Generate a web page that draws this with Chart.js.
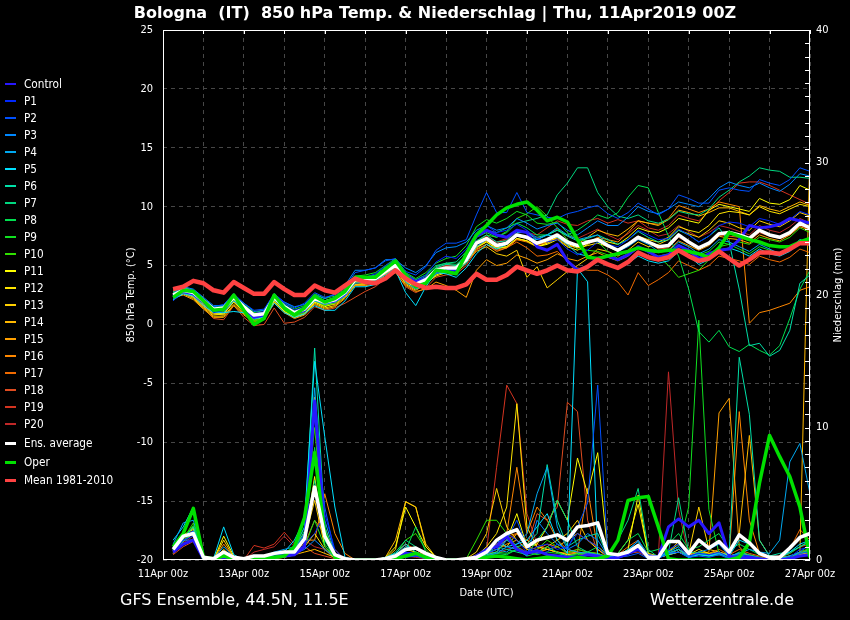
<!DOCTYPE html>
<html lang="de">
<head>
<meta charset="UTF-8">
<title>Bologna (IT) 850 hPa Temp. & Niederschlag</title>
<script src="https://cdn.jsdelivr.net/npm/chart.js"></script>
<style>
  body { margin: 0; background: #000; }
  #wrap {
    position: relative; width: 850px; height: 620px; background: #000; overflow: hidden;
    font-family: 'DejaVu Sans Condensed', 'DejaVu Sans', sans-serif; color: #fff;
  }
  #chart { position: absolute; left: 0; top: 0; }
  #title {
    position: absolute; left: 0; top: 3px; width: 870px; text-align: center;
    font-family: 'DejaVu Sans', sans-serif; font-weight: bold; font-size: 16px; white-space: pre;
  }
  .item { position: absolute; left: 0; height: 14px; font-size: 11.7px; line-height: 14px; white-space: nowrap; }
  .item i { position: absolute; left: 5px; top: 6px; width: 11px; height: 2px; }
  .item span { position: absolute; left: 24px; top: 0; }
  .foot { position: absolute; top: 590px; font-family: 'DejaVu Sans', sans-serif; font-size: 16px; white-space: nowrap; }
</style>
</head>
<body>
<div id="wrap">
  <canvas id="chart" width="850" height="620"></canvas>
  <div id="title">Bologna  (IT)  850 hPa Temp. &amp; Niederschlag | Thu, 11Apr2019 00Z</div>
  <div id="legend"></div>
  <div class="foot" style="left:120px">GFS Ensemble, 44.5N, 11.5E</div>
  <div class="foot" style="left:650px">Wetterzentrale.de</div>
</div>

<script>
// lead time of each step (hours after 11Apr 00z)
const leadHours = [6,12,18,24,30,36,42,48,
  54,60,66,72,78,84,90,96,
  102,108,114,120,126,132,138,144,
  150,156,162,168,174,180,186,192,
  198,204,210,216,222,228,234,240,
  246,252,258,264,270,276,282,288,
  294,300,306,312,318,324,330,336,
  342,348,354,360,366,372,378,384];

const xTickLabels = ['11Apr 00z','13Apr 00z','15Apr 00z','17Apr 00z','19Apr 00z',
  '21Apr 00z','23Apr 00z','25Apr 00z','27Apr 00z'];

const memberNames = ['Control','P1','P2','P3','P4','P5','P6','P7','P8','P9','P10',
  'P11','P12','P13','P14','P15','P16','P17','P18','P19','P20'];

// 850 hPa temperature (°C)
const tempControl = [2.4,2.8,2.6,1.9,1.2,1.4,2.4,1.4, 0.6,0.8,2.4,1.4,0.9,1.2,2.3,1.9,
  2.0,2.6,3.9,3.9,4.0,4.7,5.3,4.2, 3.6,3.9,4.5,4.7,4.6,5.8,7.5,8.0,
  7.6,7.4,8.0,7.8,6.6,6.3,6.8,5.4, 4.6,4.9,5.6,5.8,5.5,5.9,6.6,6.2,
  5.7,5.9,6.7,6.3,5.6,6.0,6.3,6.4, 7.2,8.4,8.2,8.3,8.5,9.0,8.8,8.6];
const tempP1 = [2.2,3.0,2.9,2.1,1.0,1.2,2.6,1.6, 0.9,1.1,2.6,1.8,1.2,1.5,2.5,2.0,
  2.3,2.9,4.1,4.0,4.3,5.0,5.5,4.1, 3.7,4.2,5.3,5.8,5.6,6.4,7.8,8.4,
  7.8,8.0,8.5,8.0,7.3,7.0,7.2,6.4, 5.9,6.3,7.0,6.8,6.6,7.2,8.0,7.6,
  7.2,7.3,8.1,7.6,7.0,7.5,8.4,8.7, 8.6,8.3,9.0,8.8,8.5,8.9,9.6,9.3];
const tempP2 = [2.0,2.8,2.8,2.2,1.5,1.7,2.6,1.8, 1.2,1.3,2.6,1.9,1.4,1.8,2.7,2.3,
  2.5,3.1,4.4,4.6,4.8,5.4,5.6,4.5, 4.2,4.9,6.3,6.9,6.9,7.2,9.3,11.2,
  9.5,9.5,11.2,9.5,9.3,9.1,9.0,9.4, 9.6,9.9,10.1,9.4,9.0,9.5,10.3,9.8,
  9.3,9.8,11.0,10.7,10.3,10.3,11.4,11.6, 11.4,11.3,12.3,12.0,11.8,12.3,13.3,13.0];
const tempP3 = [2.6,3.2,3.0,2.3,1.6,1.6,2.5,1.8, 1.1,1.2,2.5,1.9,1.5,1.7,2.5,2.2,
  2.6,3.3,4.6,4.6,4.8,5.5,5.5,4.8, 4.4,5.0,6.1,6.5,6.6,7.0,8.0,8.4,
  8.0,8.2,9.0,8.6,8.1,8.4,8.6,8.0, 7.6,8.2,8.8,8.4,8.4,9.1,10.0,9.6,
  9.4,9.8,10.4,10.2,10.0,10.7,11.6,12.1, 11.8,11.6,12.0,11.6,11.3,11.9,12.8,12.6];
const tempP4 = [2.3,2.7,2.5,1.8,1.1,1.0,2.0,1.3, 0.6,0.7,2.1,1.3,0.8,1.1,2.0,1.7,
  1.9,2.4,3.5,3.6,3.7,4.2,4.8,3.6, 3.0,3.4,4.3,4.6,4.6,5.2,6.6,7.2,
  6.6,6.9,7.8,7.8,7.2,7.6,8.2,7.6, 7.2,7.4,7.6,6.8,6.2,6.6,7.2,6.8,
  6.2,6.2,7.0,6.6,6.0,6.4,7.2,7.0, 6.6,6.2,6.8,6.4,6.0,6.4,7.2,6.8];
const tempP5 = [2.1,2.6,2.4,1.6,1.0,1.0,1.1,1.0, 0.5,0.6,1.8,1.0,0.6,0.9,1.6,1.2,
  1.2,2.0,3.2,3.2,3.4,4.0,4.6,2.7, 1.6,3.2,4.4,4.3,4.0,4.8,6.0,6.8,
  6.4,6.8,7.6,7.4,7.2,7.6,7.4,6.8, 6.0,5.8,5.6,5.2,4.8,5.2,5.8,5.4,
  5.2,5.4,6.2,5.8,5.1,5.5,6.3,6.5, 6.2,5.8,6.4,6.0,5.8,6.2,7.0,6.7];
const tempP6 = [2.8,3.1,2.9,2.2,1.4,1.5,2.4,1.6, 0.9,1.0,2.4,1.6,1.1,1.4,2.3,2.0,
  2.2,2.8,3.9,3.9,4.1,4.7,5.1,4.0, 3.5,3.9,4.8,5.1,5.0,5.8,7.1,7.6,
  7.0,7.1,8.0,7.8,7.4,7.6,8.0,7.5, 7.1,7.3,7.6,7.2,6.8,7.2,7.9,7.4,
  7.0,7.2,8.0,7.6,7.0,7.5,8.2,7.0, 3.0,-1.8,-1.6,-2.7,-2.2,-0.5,3.5,4.2];
const tempP7 = [2.7,3.0,2.6,1.8,1.2,1.5,2.5,1.5, 0.7,1.0,2.5,1.7,1.1,1.4,2.4,2.0,
  2.3,2.9,4.0,4.0,4.2,4.9,5.3,4.3, 3.8,4.2,5.0,5.2,5.3,6.2,7.5,8.0,
  7.8,8.2,8.6,8.8,9.0,9.3,11.0,12.0, 13.3,13.3,11.2,10.0,9.2,9.0,9.3,8.8,
  8.6,8.9,9.6,9.4,9.3,9.8,10.8,11.4, 12.1,12.6,13.3,13.1,13.0,12.5,12.5,12.4];
const tempP8 = [2.4,2.9,2.8,2.1,1.3,1.3,2.4,1.3, 0.4,0.7,2.4,1.4,0.9,1.3,2.3,1.8,
  2.0,2.7,3.9,3.9,4.0,4.6,5.2,4.1, 3.6,4.1,4.9,5.2,5.1,5.9,7.4,7.8,
  7.4,7.8,8.6,8.2,7.6,7.6,8.0,7.6, 8.0,8.6,9.3,9.0,9.5,10.8,11.8,11.6,
  9.5,7.5,5.8,3.0,-0.6,-1.5,-0.5,-1.9, -2.3,-1.7,-2.2,-2.6,-1.8,0.5,3.0,4.6];
const tempP9 = [2.6,3.1,2.9,2.2,1.5,1.6,2.6,1.7, 1.0,1.2,2.6,1.8,1.3,1.6,2.6,2.2,
  2.4,3.0,4.1,4.2,4.4,5.0,5.6,4.4, 3.9,4.4,5.2,5.6,5.8,6.7,8.3,8.9,
  8.6,9.0,9.6,9.3,8.6,8.5,8.7,7.8, 7.2,7.1,7.0,6.2,5.6,6.0,6.6,6.1,
  5.8,6.0,6.8,6.3,5.9,6.2,7.0,6.8, 6.4,6.0,6.6,6.3,6.0,6.3,7.2,7.0];
const tempP10 = [2.2,2.7,2.5,1.8,1.0,1.1,2.1,1.1, 0.3,0.5,2.1,1.2,0.7,1.0,2.0,1.6,
  1.8,2.4,3.6,3.7,3.8,4.4,5.0,3.8, 3.3,3.7,4.5,4.8,4.9,5.6,7.0,7.6,
  7.4,7.9,9.0,9.4,10.0,9.2,8.2,7.2, 6.4,6.3,6.2,5.9,5.4,5.9,6.5,6.2,
  5.8,5.0,4.0,4.3,4.6,5.5,6.6,6.8, 7.0,6.8,7.4,7.2,7.0,7.4,8.2,7.8];
const tempP11 = [2.4,2.8,2.4,1.6,1.0,0.9,1.9,1.1, 0.5,0.6,2.0,1.1,0.6,0.9,1.9,1.5,
  1.8,2.5,3.7,3.6,3.6,4.2,4.8,3.7, 3.1,3.4,4.2,4.5,4.4,5.2,6.6,7.0,
  6.5,6.6,7.3,7.1,6.6,6.8,7.2,6.6, 6.3,6.8,7.3,7.0,6.8,7.4,8.2,7.9,
  7.8,8.2,9.0,8.8,8.6,9.7,10.2,10.0, 9.8,9.6,10.7,10.3,10.2,10.6,11.8,11.4];
const tempP12 = [2.6,2.9,2.5,1.7,0.9,0.8,2.0,1.2, 0.6,0.8,2.2,1.4,0.9,1.1,2.0,1.6,
  1.9,2.6,3.6,3.6,3.8,4.4,4.9,3.6, 3.2,3.7,4.5,4.7,4.6,5.3,6.5,7.0,
  6.4,6.6,7.3,7.1,6.6,6.9,7.4,6.8, 6.5,6.7,6.9,6.6,6.2,6.8,7.5,7.2,
  7.0,7.4,8.3,8.0,7.8,8.4,9.4,9.6, 9.5,9.3,10.0,9.6,9.4,9.8,10.2,10.0];
const tempP13 = [2.2,2.6,2.2,1.4,0.7,0.7,1.7,0.9, 0.3,0.5,1.9,1.1,0.6,0.9,1.8,1.4,
  1.6,2.3,3.4,3.4,3.6,4.2,4.6,3.5, 3.0,3.5,4.1,4.4,4.6,5.4,6.2,6.6,
  6.0,5.8,6.3,4.0,4.9,3.1,3.8,4.5, 5.0,5.6,6.4,6.2,5.8,6.3,7.0,6.6,
  6.8,7.2,8.0,7.7,7.4,8.0,8.8,8.6, 8.2,8.0,8.8,8.5,8.3,8.8,9.5,9.2];
const tempP14 = [2.5,2.7,2.3,1.5,0.8,0.9,1.9,1.0, 0.4,0.6,2.0,1.2,0.7,1.0,1.9,1.6,
  1.7,2.4,3.4,3.5,3.7,4.3,4.7,3.4, 2.9,3.4,4.4,4.7,4.7,5.4,6.6,7.1,
  6.6,6.8,7.5,7.3,6.8,7.0,7.4,6.9, 6.8,7.4,8.0,7.7,7.5,8.1,8.8,8.6,
  8.4,8.9,9.7,9.5,9.2,9.5,9.9,9.9, 9.6,9.3,10.1,9.8,9.6,10.0,10.4,10.1];
const tempP15 = [2.3,2.5,2.1,1.3,0.6,0.6,1.6,0.8, 0.2,0.4,1.8,1.0,0.5,0.8,1.7,1.3,
  1.5,2.2,3.3,3.3,3.4,4.0,4.4,3.3, 2.8,3.0,3.6,3.3,2.9,2.3,4.6,5.5,
  5.0,5.2,5.9,5.6,5.2,5.5,6.0,5.6, 5.4,5.8,6.1,5.7,5.4,5.8,6.5,6.2,
  6.1,6.3,7.1,6.7,6.3,6.7,7.5,7.3, 7.2,6.9,7.6,7.3,7.1,7.6,8.3,8.0];
const tempP16 = [2.6,2.8,2.3,1.5,0.9,1.0,2.0,1.2, 0.5,0.7,2.1,1.3,0.8,1.1,2.0,1.7,
  1.9,2.5,3.6,3.6,3.7,4.3,4.8,3.7, 3.2,3.6,4.4,4.6,4.6,5.2,6.4,6.8,
  6.2,6.5,7.2,7.0,6.6,6.9,7.3,6.7, 6.5,6.9,7.4,7.2,7.0,7.8,8.8,8.6,
  8.5,9.0,10.1,9.8,9.5,9.8,10.4,10.2, 10.0,0.1,1.0,1.2,1.5,1.8,2.9,3.2];
const tempP17 = [2.9,3.2,2.7,1.9,1.1,1.2,2.2,1.4, 0.7,0.9,2.3,1.5,1.0,1.2,2.1,1.8,
  2.0,2.6,3.8,3.8,3.9,4.5,5.0,3.8, 3.3,3.7,4.6,4.9,4.8,5.5,6.8,7.2,
  6.6,6.5,7.0,6.5,5.8,5.9,6.2,5.4, 4.8,4.6,4.6,4.2,3.6,2.5,4.4,3.3,
  3.8,4.4,5.4,5.0,4.6,5.0,5.8,5.6, 5.4,5.1,5.8,5.5,5.3,5.7,6.4,6.1];
const tempP18 = [2.7,2.9,2.3,1.4,0.5,0.4,1.6,0.6, -0.1,0.0,1.4,0.1,0.2,0.6,1.5,1.2,
  1.4,1.8,2.3,2.8,3.2,3.9,4.5,3.2, 2.7,3.1,4.0,4.2,4.3,5.0,6.3,6.8,
  6.3,6.5,7.2,7.1,6.7,7.0,7.4,6.9, 6.6,6.9,7.1,6.7,6.3,6.8,7.4,7.0,
  6.4,6.5,7.4,6.9,6.4,6.9,7.6,7.5, 7.4,7.1,7.8,7.5,7.3,7.6,8.4,8.1];
const tempP19 = [2.8,3.1,2.6,1.8,1.1,1.3,2.3,1.5, 0.8,1.0,2.4,1.6,1.1,1.4,2.3,2.0,
  2.2,2.8,3.9,3.9,4.0,4.6,5.1,4.0, 3.5,3.9,4.7,5.0,5.0,5.7,7.0,7.4,
  6.9,7.2,7.9,7.8,7.6,8.2,8.8,8.5, 8.4,8.8,9.0,8.6,8.9,8.6,8.8,8.2,
  8.0,8.4,9.3,9.0,8.8,9.6,10.5,11.2, 12.0,12.1,12.1,11.8,11.4,11.0,10.6,10.2];
const tempP20 = [3.0,3.3,2.8,2.0,1.2,1.3,2.3,1.5, 0.7,0.9,2.3,1.5,1.0,1.3,2.2,1.9,
  2.1,2.7,3.8,3.8,3.9,4.6,5.1,4.0, 3.6,3.9,4.8,5.1,5.0,5.7,7.1,7.5,
  7.0,7.3,8.0,7.8,7.3,7.6,8.1,7.5, 7.3,7.7,8.1,7.6,7.2,7.7,8.4,8.0,
  7.5,7.7,8.4,7.9,7.4,7.8,8.4,8.2, 7.9,7.6,8.4,8.0,7.8,8.3,9.0,8.6];
const tempAverage = [2.5,2.9,2.7,2.0,1.3,1.4,2.3,1.5, 0.8,0.9,2.3,1.5,1.0,1.3,2.2,1.9,
  2.1,2.7,3.8,3.8,3.9,4.5,5.0,3.9, 3.4,3.8,4.6,4.8,4.8,5.5,6.9,7.3,
  6.7,6.9,7.6,7.4,6.9,7.2,7.6,7.0, 6.7,7.0,7.2,6.7,6.3,6.8,7.4,7.0,
  6.6,6.7,7.6,7.0,6.5,6.9,7.7,7.8, 7.6,7.3,8.0,7.6,7.4,7.8,8.6,8.2];
const tempOper = [2.3,2.9,2.8,2.0,1.2,1.3,2.5,1.2, 0.0,0.5,2.5,1.4,0.8,1.4,2.4,1.9,
  2.2,2.8,4.0,4.0,4.0,4.7,5.4,4.2, 3.2,3.5,4.6,4.5,4.3,6.0,7.6,8.4,
  9.3,9.9,10.2,10.4,9.7,8.8,9.1,8.7, 7.2,5.7,5.6,5.8,6.0,6.2,6.5,6.3,
  6.2,6.3,6.3,6.2,6.0,5.7,6.5,7.8, 7.5,7.2,7.0,6.7,6.6,6.6,7.0,7.3];
const tempMean = [3.0,3.2,3.7,3.5,2.9,2.7,3.6,3.1, 2.6,2.6,3.6,3.0,2.5,2.5,3.3,2.9,
  2.7,3.3,3.9,3.6,3.5,3.9,4.6,3.9, 3.4,3.1,3.2,3.1,3.1,3.4,4.3,3.8,
  3.8,4.2,4.9,4.6,4.3,4.6,5.0,4.6, 4.5,4.9,5.5,5.1,4.8,5.3,6.1,5.7,
  5.5,5.7,6.3,5.8,5.4,5.6,6.2,5.6, 5.0,5.5,6.1,6.1,6.0,6.4,6.9,6.9];

// 6-hourly precipitation (mm)
const precipControl = [0.6,1.2,1.5,0.1,0.0,0.2,0.1,0.0, 0.1,0.1,0.2,0.3,0.4,1.0,12.0,2.0,
  0.3,0.0,0.0,0.0,0.0,0.0,0.2,0.5, 0.4,0.2,0.0,0.0,0.0,0.0,0.3,0.8,
  1.0,1.8,0.8,0.5,0.7,0.4,0.3,0.2, 0.2,0.4,0.3,0.1,0.2,0.5,0.8,0.3,
  0.2,2.5,3.1,2.5,3.0,2.0,2.8,0.3, 0.1,0.2,0.1,0.0,0.0,0.1,0.3,0.4];
const precipP1 = [0.5,1.5,1.8,0.1,0.0,0.3,0.0,0.0, 0.0,0.2,0.3,0.5,0.5,1.2,2.0,3.5,
  0.8,0.0,0.0,0.0,0.0,0.0,0.3,0.6, 0.5,0.1,0.0,0.0,0.0,0.0,0.2,0.6,
  1.2,2.0,1.5,0.6,1.0,1.2,0.8,1.0, 2.0,1.5,1.0,0.2,0.1,0.4,0.8,0.1,
  0.2,0.8,1.2,0.3,0.5,0.4,0.6,0.2, 0.4,0.3,0.1,0.0,0.0,0.2,0.8,1.0];
const precipP2 = [0.8,1.8,2.2,0.2,0.0,0.1,0.0,0.0, 0.1,0.1,0.2,0.4,0.6,2.0,11.0,4.0,
  0.5,0.0,0.0,0.0,0.0,0.0,0.1,0.2, 0.3,0.1,0.0,0.0,0.0,0.0,0.3,0.5,
  0.8,1.5,3.0,1.0,0.5,0.6,1.2,0.8, 2.5,4.3,13.2,0.5,0.2,0.3,0.5,0.1,
  0.1,0.5,0.6,0.2,0.3,0.2,0.4,0.1, 0.3,0.2,0.0,0.0,0.0,0.1,0.5,0.6];
const precipP3 = [1.0,1.5,1.5,0.1,0.0,0.2,0.1,0.0, 0.0,0.1,0.2,0.3,0.5,0.8,1.5,0.8,
  0.2,0.0,0.0,0.0,0.0,0.0,0.2,0.4, 0.3,0.2,0.0,0.0,0.0,0.0,0.0,0.3,
  0.5,1.0,0.8,0.3,3.0,2.0,1.2,0.8, 1.2,2.0,1.5,0.3,0.2,0.6,1.5,0.4,
  0.3,0.6,1.0,0.2,0.6,0.8,1.2,0.3, 0.5,0.3,0.1,0.0,0.1,0.3,0.6,1.2];
const precipP4 = [1.2,2.8,3.0,0.3,0.1,1.0,0.2,0.0, 0.1,0.3,0.6,0.8,1.0,2.5,13.0,3.0,
  0.5,0.0,0.0,0.0,0.0,0.1,0.4,1.0, 0.8,0.5,0.1,0.0,0.0,0.0,0.2,0.5,
  0.8,0.6,1.2,2.0,5.0,7.0,2.5,0.8, 0.6,0.5,0.4,0.2,0.3,0.6,1.0,0.3,
  0.2,0.5,0.8,0.3,0.5,0.4,0.5,0.2, 0.5,0.8,0.6,0.5,1.5,7.4,8.8,5.0];
const precipP5 = [1.5,2.5,4.0,0.3,0.1,2.5,0.4,0.0, 0.1,0.2,0.4,0.6,1.5,3.0,15.0,9.3,
  4.0,0.2,0.0,0.0,0.0,0.2,0.5,1.2, 0.6,0.3,0.1,0.0,0.0,0.0,0.3,0.8,
  1.5,1.0,1.2,1.5,2.5,3.5,1.5,0.5, 22.0,21.0,0.3,0.2,0.3,0.8,1.4,0.3,
  0.2,0.4,0.6,0.2,0.4,0.3,0.5,0.3, 1.5,1.2,0.4,0.2,0.2,0.6,1.2,1.5];
const precipP6 = [0.8,1.6,2.5,0.2,0.0,0.4,0.1,0.0, 0.0,0.1,0.3,0.5,0.8,2.2,16.0,2.5,
  0.3,0.0,0.0,0.0,0.0,0.1,0.3,0.6, 0.4,0.2,0.0,0.0,0.0,0.0,0.1,0.4,
  0.6,1.5,1.0,1.2,2.0,7.2,3.0,1.0, 1.5,1.8,2.0,0.3,0.2,0.5,1.2,0.3,
  0.3,0.5,0.8,0.2,0.4,0.3,0.4,0.5, 15.3,11.0,1.5,0.3,0.5,0.6,1.0,1.4];
const precipP7 = [0.6,1.4,2.2,0.2,0.0,0.3,0.0,0.0, 0.0,0.1,0.2,0.3,0.6,1.8,6.0,1.5,
  0.2,0.0,0.0,0.0,0.0,0.1,0.6,1.5, 1.0,0.4,0.0,0.0,0.0,0.0,0.2,0.5,
  1.0,0.8,0.6,0.4,1.5,2.5,4.5,3.0, 1.0,0.6,0.4,0.3,1.5,3.0,5.4,0.8,
  0.2,0.6,4.7,0.6,0.5,0.3,0.4,0.2, 0.6,0.4,0.2,0.0,0.1,0.3,0.5,0.8];
const precipP8 = [0.7,1.5,2.0,0.1,0.0,0.2,0.0,0.0, 0.0,0.1,0.2,0.4,0.7,2.0,8.5,1.2,
  0.2,0.0,0.0,0.0,0.0,0.0,0.2,0.7, 2.5,0.6,0.0,0.0,0.0,0.0,0.1,0.3,
  0.5,0.4,0.8,0.3,0.5,1.0,0.6,0.3, 0.4,0.6,1.0,0.3,0.5,1.5,2.0,0.6,
  0.8,1.2,2.0,0.8,1.0,1.5,2.0,0.8, 1.2,0.8,0.4,0.3,0.2,0.5,1.0,1.5];
const precipP9 = [0.9,1.7,2.6,0.2,0.0,0.2,0.1,0.0, 0.0,0.1,0.2,0.3,0.5,1.0,3.0,1.0,
  0.2,0.0,0.0,0.0,0.0,0.0,0.2,0.4, 0.4,0.1,0.0,0.0,0.0,0.0,0.2,0.4,
  0.6,0.5,0.8,0.6,0.4,0.6,0.5,0.3, 0.5,0.4,0.3,0.1,0.2,0.5,0.8,0.2,
  0.3,0.6,1.0,4.0,18.1,3.8,0.5,0.2, 0.4,0.3,0.1,0.0,0.0,0.2,0.5,0.7];
const precipP10 = [0.8,1.6,2.8,0.2,0.0,0.3,0.1,0.0, 0.0,0.1,0.2,0.4,0.8,2.5,10.0,1.5,
  0.2,0.0,0.0,0.0,0.0,0.1,0.4,1.5, 2.0,0.8,0.0,0.0,0.0,0.1,1.5,3.0,
  3.0,2.0,1.0,0.5,0.8,1.5,1.0,0.5, 0.8,0.6,0.5,0.2,0.3,0.6,1.2,0.3,
  0.3,0.5,0.8,0.2,0.6,0.4,0.5,0.2, 0.5,0.3,0.2,0.0,0.1,0.3,0.6,0.9];
const precipP11 = [0.6,1.8,2.4,0.2,0.0,1.8,0.3,0.0, 0.0,0.1,0.2,0.3,0.6,1.5,6.3,1.0,
  0.2,0.0,0.0,0.0,0.0,0.2,1.0,4.0, 2.5,1.0,0.2,0.0,0.0,0.0,0.3,0.6,
  1.0,1.5,3.5,1.0,1.2,2.5,4.5,3.0, 7.7,5.0,8.1,0.5,0.3,0.8,4.9,0.4,
  0.2,0.5,0.8,0.3,0.6,0.4,0.5,0.2, 0.5,0.3,0.1,0.0,0.0,0.1,0.3,0.5];
const precipP12 = [0.5,1.4,2.0,0.1,0.0,0.8,0.1,0.0, 0.0,0.1,0.1,0.2,0.4,1.0,2.0,0.8,
  0.1,0.0,0.0,0.0,0.0,0.0,0.3,0.8, 0.6,0.3,0.0,0.0,0.0,0.0,0.3,1.0,
  2.0,4.0,11.8,2.5,1.0,0.8,0.6,0.4, 0.5,0.4,0.3,0.2,0.5,1.5,4.2,0.5,
  0.3,0.6,1.2,0.4,0.8,0.5,0.6,0.3, 0.4,0.3,0.1,0.0,0.0,0.1,0.3,0.4];
const precipP13 = [0.7,1.9,2.3,0.2,0.0,1.5,0.2,0.0, 0.0,0.1,0.2,0.4,0.6,1.5,4.5,1.0,
  0.2,0.0,0.0,0.0,0.0,0.1,0.8,4.4, 4.0,1.2,0.2,0.0,0.0,0.1,0.6,2.0,
  5.4,2.5,1.5,0.8,0.6,1.0,1.5,2.0, 3.0,1.5,0.8,0.3,0.3,0.6,1.2,0.4,
  0.3,0.6,1.4,0.5,4.0,0.8,0.6,0.3, 0.5,0.3,0.1,0.0,0.0,0.1,0.4,0.6];
const precipP14 = [0.6,1.7,2.5,0.2,0.0,0.6,0.1,0.0, 0.0,0.1,0.2,0.3,0.4,0.6,0.8,0.5,
  0.2,0.0,0.0,0.0,0.0,0.2,1.5,4.4, 4.0,1.0,0.2,0.0,0.0,0.0,0.4,0.8,
  1.2,1.0,2.0,1.5,1.0,0.8,1.0,1.5, 2.0,1.5,1.0,0.4,0.2,0.5,1.0,0.3,
  0.2,0.4,0.6,0.3,0.5,0.4,0.6,0.4, 2.0,9.4,1.5,0.3,0.2,0.3,0.5,31.0];
const precipP15 = [0.6,1.6,2.2,0.1,0.0,0.4,0.0,0.0, 0.0,0.1,0.2,0.3,0.6,2.0,12.3,2.5,
  0.4,0.0,0.0,0.0,0.0,0.1,0.4,1.0, 0.8,0.4,0.0,0.0,0.0,0.0,0.2,0.5,
  0.8,1.2,1.5,0.8,0.6,0.8,0.6,0.5, 0.6,0.5,0.4,0.2,0.3,0.5,0.8,0.2,
  0.2,0.4,0.6,0.3,0.5,0.6,11.1,12.2, 1.0,0.2,0.1,0.0,0.0,0.2,0.4,0.6];
const precipP16 = [0.7,1.5,2.0,0.1,0.0,1.2,0.2,0.0, 0.0,0.1,0.2,0.3,0.5,1.5,1.5,5.0,
  2.0,0.5,0.0,0.0,0.0,0.1,0.5,1.2, 0.8,0.3,0.0,0.0,0.0,0.0,0.3,0.6,
  1.0,2.0,7.0,2.0,4.0,3.0,1.5,0.8, 0.6,5.4,0.8,0.2,0.3,0.5,0.8,0.2,
  0.2,0.4,0.8,0.3,0.5,0.4,0.6,0.3, 11.2,3.0,0.5,0.2,0.1,0.2,0.5,0.8];
const precipP17 = [0.5,1.2,1.6,0.1,0.0,0.3,0.0,0.0, 0.0,0.1,0.3,0.5,0.8,1.2,3.0,2.0,
  0.8,0.0,0.0,0.0,0.0,0.0,0.2,0.5, 0.4,0.2,0.0,0.0,0.0,0.0,0.2,0.6,
  1.2,1.8,2.0,1.0,0.8,1.2,1.0,0.6, 0.8,0.6,0.5,0.2,0.4,1.0,1.5,0.4,
  0.3,0.5,0.8,0.4,0.6,0.5,0.8,0.4, 0.8,0.5,0.3,0.2,0.3,0.8,2.3,1.5];
const precipP18 = [0.4,1.0,1.4,0.1,0.0,0.2,0.0,0.0, 0.0,0.2,0.4,0.6,0.8,1.0,0.5,0.3,
  0.1,0.0,0.0,0.0,0.0,0.0,0.1,0.3, 0.3,0.1,0.0,0.0,0.0,0.0,0.2,0.5,
  0.6,1.5,2.0,1.0,3.5,3.0,4.0,11.9, 11.2,3.0,0.5,0.2,0.3,0.5,0.6,0.2,
  0.2,0.4,0.6,0.3,0.5,0.4,0.6,0.3, 0.5,0.4,0.2,0.1,0.2,0.5,1.0,1.2];
const precipP19 = [0.5,1.2,1.5,0.1,0.0,0.2,0.0,0.0, 1.1,0.9,1.2,2.1,1.2,2.0,11.5,1.0,
  0.2,0.0,0.0,0.0,0.0,0.0,0.2,0.4, 0.3,0.2,0.0,0.0,0.0,0.0,0.3,0.7,
  7.0,13.2,11.8,3.5,1.2,0.8,0.6,0.4, 0.5,0.4,0.3,0.2,0.3,0.6,0.8,0.2,
  0.2,0.5,0.8,0.3,0.5,0.4,0.5,0.2, 0.4,0.3,0.1,0.0,0.0,0.2,0.5,0.6];
const precipP20 = [0.6,1.3,1.8,0.1,0.0,0.2,0.0,0.0, 0.6,0.8,1.0,1.8,1.0,1.5,1.0,0.8,
  0.2,0.0,0.0,0.0,0.0,0.0,0.1,0.3, 0.2,0.1,0.0,0.0,0.0,0.0,0.2,0.4,
  0.5,0.8,1.0,0.6,0.5,0.8,0.6,0.4, 0.5,0.4,0.3,0.2,0.3,0.5,0.8,0.3,
  0.3,14.2,3.8,0.3,0.5,0.4,0.6,0.3, 0.4,0.3,0.2,0.1,0.1,0.3,0.6,0.8];
const precipAverage = [0.8,1.8,2.0,0.2,0.1,0.6,0.2,0.1, 0.3,0.3,0.5,0.6,0.6,1.6,5.5,1.8,
  0.4,0.1,0.0,0.0,0.0,0.1,0.3,0.8, 0.9,0.5,0.2,0.0,0.0,0.1,0.2,0.6,
  1.5,2.0,2.3,1.0,1.5,1.7,1.9,1.5, 2.5,2.6,2.8,0.5,0.4,0.6,1.1,0.2,
  0.2,1.4,1.4,0.5,1.5,0.9,1.4,0.6, 1.9,1.3,0.5,0.2,0.2,0.9,1.7,2.0];
const precipOper = [1.0,2.0,3.9,0.2,0.1,0.3,0.1,0.0, 0.1,0.1,0.2,0.3,1.0,3.2,8.1,2.0,
  0.2,0.0,0.0,0.0,0.0,0.0,0.1,0.3, 0.5,0.2,0.0,0.0,0.0,0.0,0.1,0.2,
  0.3,0.2,0.1,0.0,0.1,0.2,0.1,0.0, 0.2,0.1,0.1,0.3,1.5,4.5,4.7,4.8,
  2.5,0.1,0.0,0.0,0.0,0.0,0.0,0.0, 0.2,1.3,5.8,9.4,7.8,6.3,4.0,0.2];

const memberTemps = [tempControl, tempP1, tempP2, tempP3, tempP4, tempP5, tempP6, tempP7,
  tempP8, tempP9, tempP10, tempP11, tempP12, tempP13, tempP14, tempP15, tempP16, tempP17,
  tempP18, tempP19, tempP20];
const memberPrecip = [precipControl, precipP1, precipP2, precipP3, precipP4, precipP5,
  precipP6, precipP7, precipP8, precipP9, precipP10, precipP11, precipP12, precipP13,
  precipP14, precipP15, precipP16, precipP17, precipP18, precipP19, precipP20];

// line colours, blue -> green -> yellow -> red like the original
const memberColors = ['#2818ff','#0028ff','#0050ff','#0088ff','#00a8f0','#00e0ff',
  '#00e0a8','#00d880','#00e050','#10e020','#30e000','#ffff00','#ffe600','#ffd000',
  '#ffb800','#ffa000','#ff8800','#f06a00','#e04c20','#d43420','#c02828'];
const avgColor = '#ffffff';
const operColor = '#00e000';
const meanColor = '#ff4242';

const FONT = "'DejaVu Sans Condensed', 'DejaVu Sans', sans-serif";
Chart.defaults.font.family = FONT;
Chart.defaults.font.size = 11;
Chart.defaults.color = '#fff';

const pts = arr => arr.map((v, i) => ({ x: leadHours[i], y: v }));

function line(label, values, color, width, axis, order) {
  return {
    label, data: pts(values), yAxisID: axis, order,
    borderColor: color, backgroundColor: color, borderWidth: width,
    pointRadius: 0, tension: 0, fill: false, borderJoinStyle: 'round'
  };
}

const datasets = [];
datasets.push(line('Mean 1981-2010', tempMean, meanColor, 4.5, 'y', 0));
datasets.push(line('Oper', tempOper, operColor, 3.5, 'y', 1));
datasets.push(line('Ens. average', tempAverage, avgColor, 3.5, 'y', 2));
memberTemps.forEach((vals, i) => {
  datasets.push(line(memberNames[i], vals, memberColors[i], i === 0 ? 3 : 1, 'y', 3));
});
datasets.push(line('Ens. average (mm)', precipAverage, avgColor, 3.5, 'y2', 4));
datasets.push(line('Oper (mm)', precipOper, operColor, 3.5, 'y2', 5));
memberPrecip.forEach((vals, i) => {
  datasets.push(line(memberNames[i] + ' (mm)', vals, memberColors[i], i === 0 ? 3 : 1, 'y2', 6));
});

// white frame, inward ticks and axis titles
const frame = {
  id: 'frame',
  afterDraw(chart) {
    const { ctx, chartArea: a, scales } = chart;
    ctx.save();
    ctx.strokeStyle = '#fff';
    ctx.lineWidth = 1;
    ctx.strokeRect(a.left + 0.5, a.top + 0.5, a.right - a.left - 1, a.bottom - a.top - 1);
    ctx.beginPath();
    for (let mm = 0; mm <= 40; mm++) {
      const y = Math.round(scales.y2.getPixelForValue(mm)) + 0.5;
      ctx.moveTo(a.right - 5, y);
      ctx.lineTo(a.right, y);
    }
    for (let h = 0; h <= 384; h += 24) {
      const x = Math.round(scales.x.getPixelForValue(h)) + 0.5;
      ctx.moveTo(x, a.top);
      ctx.lineTo(x, a.top + 4);
    }
    ctx.stroke();

    ctx.fillStyle = '#fff';
    ctx.font = '11px ' + FONT;
    ctx.textAlign = 'center';
    ctx.textBaseline = 'middle';
    ctx.fillText('Date (UTC)', (a.left + a.right) / 2, 593);
    const midY = (a.top + a.bottom) / 2;
    [[131, '850 hPa Temp. (°C)'], [838, 'Niederschlag (mm)']].forEach(([x, t]) => {
      ctx.save();
      ctx.translate(x, midY);
      ctx.rotate(-Math.PI / 2);
      ctx.fillText(t, 0, 0);
      ctx.restore();
    });
    ctx.restore();
  }
};

new Chart(document.getElementById('chart'), {
  type: 'line',
  data: { datasets },
  options: {
    responsive: false,
    animation: false,
    layout: { padding: { left: 120, top: 30, right: 0, bottom: 0 } },
    plugins: { legend: { display: false }, tooltip: { enabled: false } },
    scales: {
      x: {
        type: 'linear', min: 0, max: 384,
        ticks: {
          stepSize: 24, autoSkip: false, maxRotation: 0, padding: 8, color: '#fff',
          callback: v => (v % 48 === 0 ? xTickLabels[v / 48] : '')
        },
        grid: { color: '#474747', drawTicks: false },
        border: { display: false, dash: [4, 4] },
        afterFit: s => { s.height = 60; }
      },
      y: {
        type: 'linear', position: 'left', min: -20, max: 25,
        ticks: { stepSize: 5, padding: 10, color: '#fff' },
        grid: { color: '#474747', drawTicks: false },
        border: { display: false, dash: [4, 4] },
        afterFit: s => { s.width = 43; }
      },
      y2: {
        type: 'linear', position: 'right', min: 0, max: 40,
        ticks: { stepSize: 10, padding: 6, color: '#fff' },
        grid: { display: false, drawTicks: false },
        border: { display: false },
        afterFit: s => { s.width = 40; }
      }
    }
  },
  plugins: [frame]
});

// legend down the left side
const legend = document.getElementById('legend');
const legendRows = memberNames.map((n, i) => [n, memberColors[i], 84 + 17 * i, 2]);
legendRows.push(['Ens. average', avgColor, 443, 3]);
legendRows.push(['Oper', operColor, 462, 3]);
legendRows.push(['Mean 1981-2010', meanColor, 480, 3]);
legendRows.forEach(([name, color, y, h]) => {
  const row = document.createElement('div');
  row.className = 'item';
  row.style.top = (y - 7) + 'px';
  row.innerHTML = '<i style="background:' + color + ';height:' + h + 'px"></i><span>' + name + '</span>';
  legend.appendChild(row);
});
</script>
</body>
</html>
